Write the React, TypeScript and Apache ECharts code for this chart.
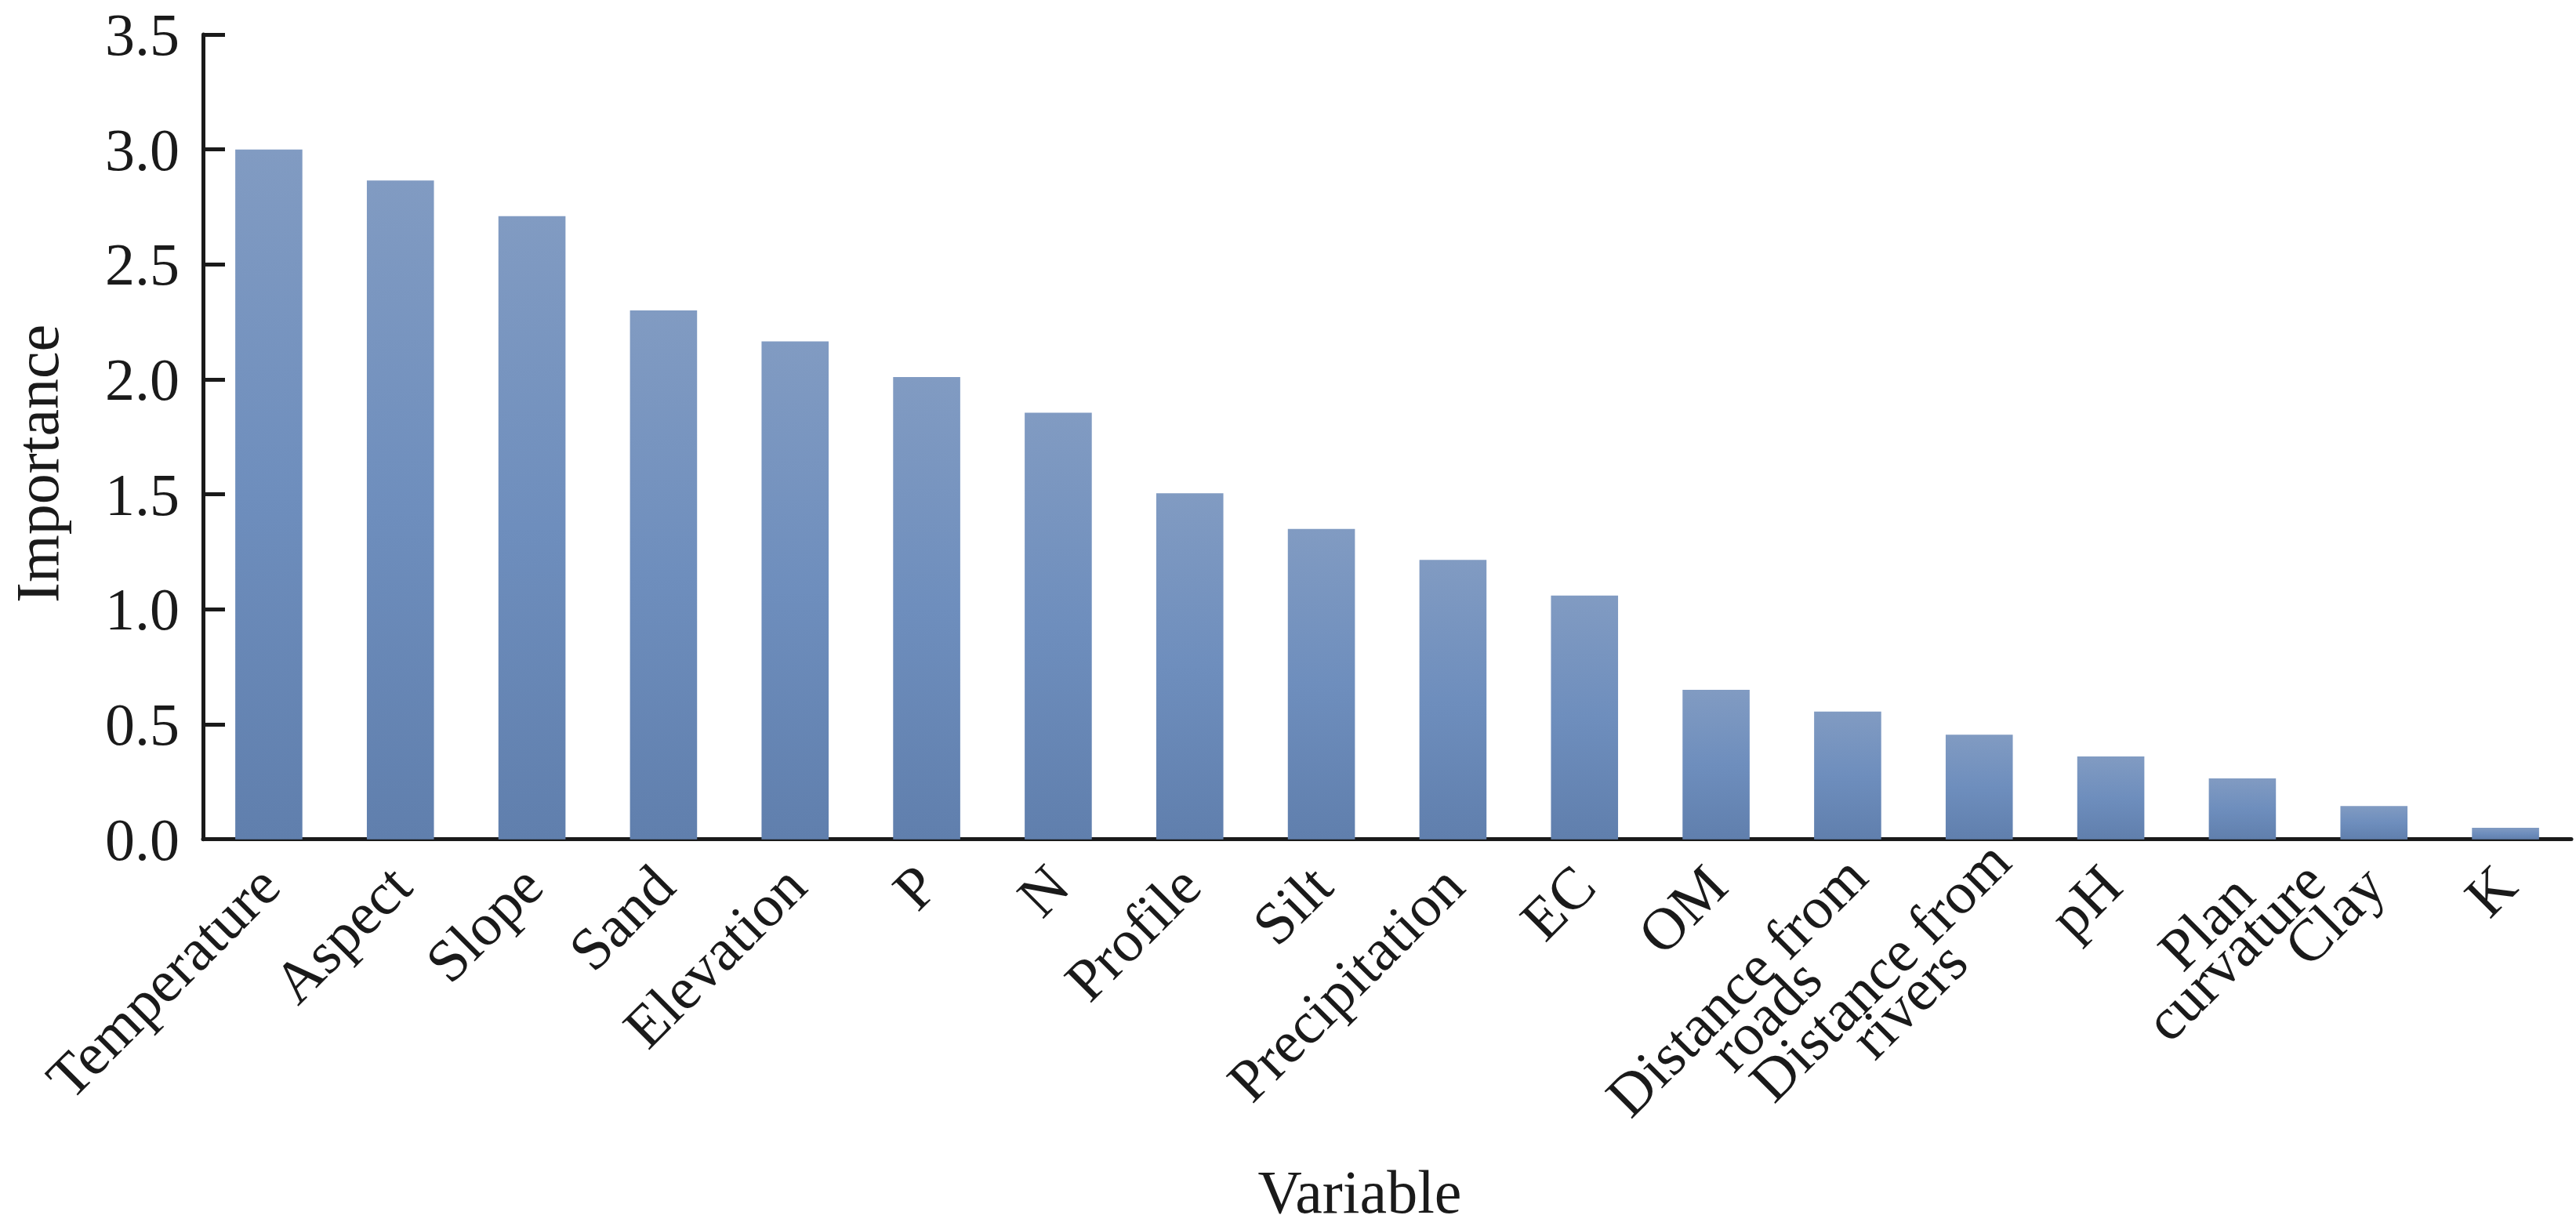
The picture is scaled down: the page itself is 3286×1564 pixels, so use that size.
import React, { useEffect, useRef } from "react";
import * as echarts from "echarts";

const categories = [
  "Temperature",
  "Aspect",
  "Slope",
  "Sand",
  "Elevation",
  "P",
  "N",
  "Profile",
  "Silt",
  "Precipitation",
  "EC",
  "OM",
  "Distance from\nroads",
  "Distance from\nrivers",
  "pH",
  "Plan\ncurvature",
  "Clay",
  "K",
];
const importance = [
  3.0, 2.865, 2.71, 2.3, 2.165, 2.01, 1.855, 1.505, 1.35, 1.215, 1.06, 0.65,
  0.555, 0.455, 0.36, 0.265, 0.145, 0.05,
];
const yMin = 0;
const yMax = 3.5;
const yStep = 0.5;
const xName = "Variable";
const yName = "Importance";

const FONT = "'Liberation Serif', 'Times New Roman', serif";
const INK = "#1a1a1a";
const FS = 76;
const LINE_H = 52;

// Wrapped (two-line) labels: Excel centres the second line on the first,
// so these are laid out with centred alignment and a right-hand pad.
const wrappedLabelStyle: Record<string, any> = {
  "Distance from\nroads": { align: "center", padding: [50, 400, 0, 0] },
  "Distance from\nrivers": { align: "center", padding: [44, 352, 0, 0] },
  "Plan\ncurvature": { align: "center", padding: [70, 150, 0, 0] },
};

export default function App() {
  const ref = useRef<HTMLDivElement>(null);
  useEffect(() => {
    if (!ref.current) return;
    const chart = echarts.init(ref.current, undefined, { renderer: "svg" });
    const xData = categories.map((c) =>
      wrappedLabelStyle[c] ? { value: c, textStyle: wrappedLabelStyle[c] } : c
    );
    chart.setOption({
      animation: false,
      backgroundColor: "#ffffff",
      grid: { left: 251, right: 6, top: 44, bottom: 476, containLabel: false },
      xAxis: {
        type: "category",
        data: xData,
        boundaryGap: true,
        name: xName,
        nameLocation: "middle",
        nameGap: 384,
        nameTextStyle: {
          fontFamily: FONT,
          fontSize: 78,
          color: INK,
          padding: [0, 70, 0, 0],
        },
        axisLine: { show: true, lineStyle: { color: INK, width: 5 } },
        axisTick: { show: false },
        axisLabel: {
          interval: 0,
          rotate: 45,
          margin: 46,
          fontFamily: FONT,
          fontSize: FS,
          lineHeight: LINE_H,
          color: INK,
          formatter: (v: string) =>
            v
              .split("\n")
              .map((l) => `{c|${l}}`)
              .join("\n"),
          rich: {
            c: {
              align: "center",
              fontFamily: FONT,
              fontSize: FS,
              lineHeight: LINE_H,
              color: INK,
            },
          },
        },
        splitLine: { show: false },
      },
      yAxis: {
        type: "value",
        min: yMin,
        max: yMax,
        interval: yStep,
        name: yName,
        nameLocation: "middle",
        nameGap: 173,
        nameTextStyle: {
          fontFamily: FONT,
          fontSize: 78,
          color: INK,
          padding: [0, 68, 0, 0],
        },
        axisLine: { show: true, lineStyle: { color: INK, width: 5 } },
        axisTick: {
          show: true,
          inside: true,
          length: 28,
          lineStyle: { color: INK, width: 5 },
        },
        axisLabel: {
          margin: 30,
          fontFamily: FONT,
          fontSize: 76,
          lineHeight: 60,
          color: INK,
          formatter: (v: number) => v.toFixed(1),
        },
        splitLine: { show: false },
      },
      series: [
        {
          type: "bar",
          data: importance,
          barWidth: "51%",
          itemStyle: {
            color: new echarts.graphic.LinearGradient(0, 0, 0, 1, [
              { offset: 0, color: "#819bc2" },
              { offset: 0.5, color: "#6e8ebd" },
              { offset: 1, color: "#607fad" },
            ]),
          },
        },
      ],
    });
    return () => chart.dispose();
  }, []);
  return (
    <div
      ref={ref}
      style={{ position: "fixed", left: 0, top: 0, width: "3286px", height: "1564px" }}
    />
  );
}
